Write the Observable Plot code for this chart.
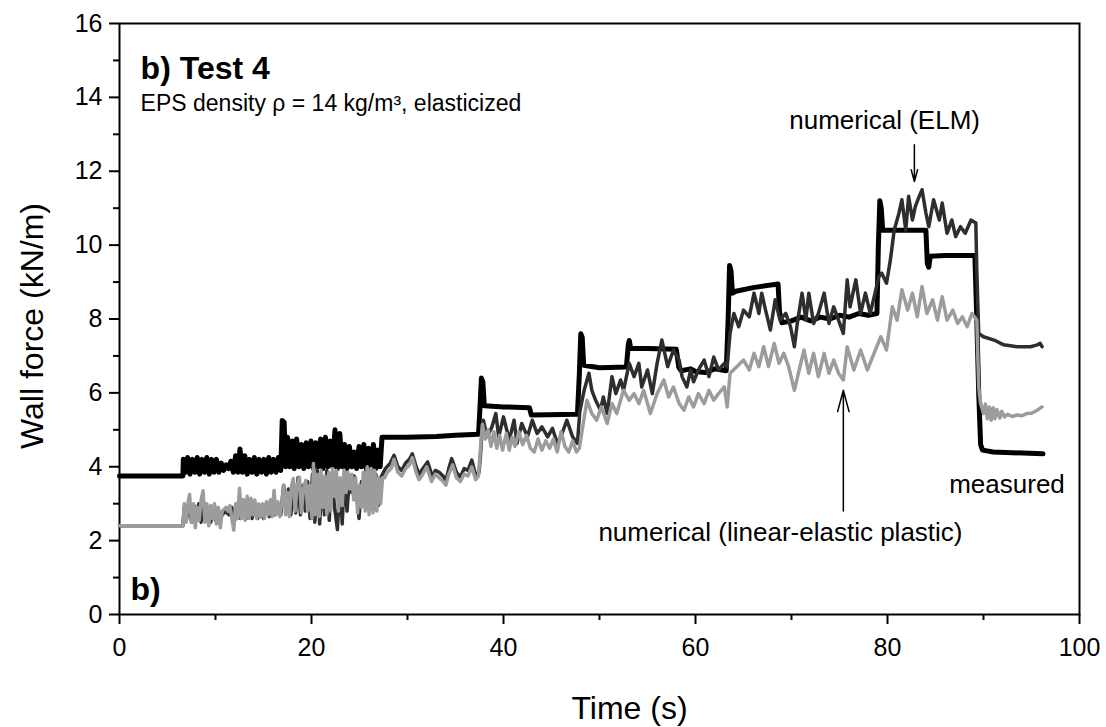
<!DOCTYPE html>
<html>
<head>
<meta charset="utf-8">
<script src="https://cdn.jsdelivr.net/npm/d3@7"></script>
<script src="https://cdn.jsdelivr.net/npm/@observablehq/plot@0.6"></script>
<style>
  html, body { margin: 0; padding: 0; background: #fff; }
</style>
</head>
<body>
<div id="chart"></div>
<script>
// ---- data (time s, wall force kN/m) ----
const measured = [
  [0,3.75],[6.6,3.75],
  [6.65,4.2],[6.9,3.85],[7.1,4.25],[7.35,3.8],[7.6,4.2],[7.85,3.85],[8.1,4.25],[8.35,3.8],[8.6,4.2],[8.85,3.85],
  [9.1,4.25],[9.35,3.8],[9.6,4.2],[9.85,3.85],[10.1,4.2],[10.35,3.85],[10.6,4.1],[10.85,3.9],[11.1,4.05],[11.35,3.95],
  [11.6,4.15],[11.85,3.85],[12.1,4.3],[12.35,3.85],[12.55,4.48],[12.8,3.85],[13.05,4.3],[13.3,3.8],[13.55,4.2],[13.8,3.85],
  [14.05,4.25],[14.3,3.8],[14.55,4.2],[14.8,3.85],[15.05,4.2],[15.3,3.8],[15.55,4.25],[15.8,3.85],[16.05,4.2],[16.3,3.85],
  [16.55,4.25],[16.8,3.9],
  [16.95,5.25],[17.15,5.2],[17.3,4.0],[17.5,4.8],[17.75,4.0],[18.0,4.7],[18.2,3.95],[18.45,4.75],[18.7,4.0],[18.95,4.6],
  [19.2,3.95],[19.45,4.65],[19.7,4.0],[19.95,4.7],[20.2,3.95],[20.45,4.65],[20.7,4.0],[20.95,4.75],[21.2,3.95],[21.45,4.8],
  [21.7,4.0],[21.95,4.7],[22.2,4.0],[22.45,5.0],[22.7,3.95],[22.95,4.9],[23.2,4.0],[23.45,4.6],[23.7,3.95],[23.95,4.55],
  [24.2,4.0],[24.45,4.4],[24.7,3.95],[24.95,4.55],[25.2,4.0],[25.45,4.6],[25.7,3.95],[25.95,4.5],[26.2,4.0],[26.45,4.6],
  [26.7,3.95],[26.95,4.45],[27.15,4.0],[27.35,4.8],
  [30,4.8],[33,4.82],[35,4.85],[37.4,4.88],
  [37.55,5.6],[37.7,6.4],[37.85,6.3],[38.0,5.65],[40,5.62],[42.7,5.6],[42.9,5.4],[47.7,5.42],
  [47.9,6.5],[48.05,7.6],[48.2,7.5],[48.35,6.75],[50,6.68],[52.8,6.7],
  [53.0,7.3],[53.1,7.42],[53.25,7.2],[55,7.2],[58.0,7.18],[58.25,6.7],[58.5,6.6],
  [59.5,6.65],[60,6.58],[61,6.55],[62,6.65],[63.2,6.6],
  [63.4,8.0],[63.55,9.45],[63.7,9.3],[63.85,8.7],[64.2,8.75],[66,8.85],[68.6,8.95],
  [68.75,8.2],[69,7.9],[70,7.95],[71,8.05],[72,7.95],[73,8.05],[74,8.0],[75,8.1],[76,8.05],[77,8.15],[78,8.1],[78.9,8.15],
  [79.05,10.0],[79.2,11.2],[79.35,11.0],[79.5,10.4],[82,10.4],[84.0,10.4],
  [84.15,9.5],[84.3,9.4],[84.45,9.7],[86,9.72],[89.1,9.72],
  [89.3,8.0],[89.5,6.0],[89.7,4.6],[89.9,4.45],[91,4.4],[93,4.38],[96.2,4.35]
];

const elm = [
  [0,2.4],[6.6,2.4],
  [6.75,2.9],[7.0,2.6],[7.25,3.1],[7.5,2.5],[7.75,2.95],[8.0,2.55],[8.25,3.0],[8.5,2.5],[8.75,3.05],[9.0,2.55],
  [9.25,2.9],[9.5,2.5],[9.75,2.85],[10.0,2.55],[10.3,2.8],[10.6,2.65],[11.0,2.8],[11.4,2.7],[11.7,2.9],[12.0,2.55],
  [12.3,3.0],[12.6,2.6],[12.9,3.1],[13.2,2.6],[13.5,2.95],[13.8,2.6],[14.1,2.9],[14.4,2.6],[14.7,2.8],[15.0,2.6],
  [15.3,3.0],[15.6,2.65],[15.9,3.1],[16.2,2.7],[16.5,3.0],[16.8,2.7],
  [17.1,3.5],[17.35,2.75],[17.6,3.4],[17.85,2.7],[18.1,3.6],[18.35,2.75],[18.6,3.7],[18.85,2.7],[19.1,3.5],[19.35,2.8],
  [19.6,3.6],[19.85,2.6],[20.1,3.8],[20.35,2.5],[20.6,3.9],[20.85,2.45],[21.1,3.7],[21.35,2.7],[21.6,3.9],[21.85,2.55],
  [22.1,3.8],[22.4,2.9],[22.7,2.3],[22.95,3.6],[23.2,2.45],[23.45,3.9],[23.7,2.8],[23.95,3.7],[24.2,3.3],[24.45,3.75],
  [24.7,3.3],[24.95,2.6],[25.2,3.6],[25.45,3.4],[25.7,3.9],[25.95,2.9],[26.2,3.95],[26.45,2.85],[26.7,3.8],[26.95,2.95],
  [27.2,3.7],
  [27.5,3.85],[27.7,3.95],[28.2,4.1],[28.6,4.31],[29.0,4.0],[29.4,3.9],[29.8,4.1],[30.2,4.2],[30.5,4.35],[30.9,4.0],
  [31.2,3.8],[31.6,3.95],[32.1,4.13],[32.6,3.72],[32.9,3.9],[33.3,3.85],[33.7,3.75],[34.0,3.63],[34.3,3.95],[34.6,4.22],
  [35.1,3.85],[35.5,3.72],[35.9,3.95],[36.3,3.9],[36.7,4.18],[37.1,3.77],[37.45,3.85],
  [37.6,4.3],[37.75,4.9],[37.9,5.26],[38.3,4.81],[38.8,5.08],[39.2,5.44],[39.5,4.81],[40.0,5.35],[40.6,4.72],[41.1,5.26],
  [41.4,4.63],[41.9,5.17],[42.5,4.81],[43.0,5.26],[43.5,4.9],[44.0,5.08],[44.6,4.81],[45.1,5.04],[45.6,4.63],[46.1,4.9],
  [46.6,5.26],[47.2,4.81],[47.7,4.63],[47.95,5.5],
  [48.4,6.07],[48.9,6.53],[49.2,6.07],[49.6,5.8],[50.1,5.53],[50.4,5.89],[50.8,5.44],[51.3,6.44],[51.7,5.98],[52.2,6.35],
  [52.5,6.07],[53.1,6.8],[53.6,6.44],[54.1,6.8],[54.4,6.16],[55.0,6.62],[55.5,5.98],[56.0,6.8],[56.5,7.43],[57.1,6.71],
  [57.7,7.16],[58.3,6.89],[58.6,6.44],[59.1,6.16],[59.5,6.62],[59.8,6.3],[60.3,6.62],[60.9,6.89],[61.4,6.44],[61.9,6.97],
  [62.4,6.62],[63.0,6.8],[63.3,6.71],
  [63.6,7.61],[64.0,8.15],[64.5,7.79],[65.0,8.24],[65.6,8.06],[66.1,8.7],[66.6,8.15],[66.9,8.7],[67.3,8.24],[67.8,7.7],
  [68.3,8.52],[68.8,7.97],[69.4,8.15],[69.9,7.79],[70.3,7.25],[70.6,7.88],[71.1,8.7],[71.5,7.97],[71.8,8.7],[72.3,7.88],
  [72.8,8.15],[73.4,8.7],[73.9,7.88],[74.4,8.33],[74.9,7.97],[75.4,7.61],[75.8,9.06],[76.1,8.33],[76.7,9.06],[77.2,8.15],
  [77.7,8.7],[78.2,8.15],[78.7,8.7],[79.1,9.15],[79.4,9.24],[79.9,8.97],[80.3,9.6],[80.7,10.41],[81.2,10.87],[81.5,11.23],
  [81.9,10.41],[82.2,11.32],[82.6,10.68],[82.9,11.05],[83.3,11.32],[83.6,11.5],[84.0,10.87],[84.3,10.5],[84.8,11.23],
  [85.4,10.68],[85.7,11.14],[86.2,10.32],[86.7,10.68],[87.1,10.23],[87.6,10.5],[88.1,10.32],[88.7,10.68],[89.2,10.6],
  [89.3,9.33],[89.5,7.61],[90.0,7.52],[91.1,7.43],[92.1,7.3],[93.5,7.25],[94.9,7.25],[95.6,7.3],[95.9,7.34],[96.1,7.25]
];

const lep = [
  [0,2.4],[6.6,2.4],
  [6.75,3.0],[6.95,2.5],[7.15,3.05],[7.3,3.25],[7.5,2.5],[7.7,3.0],[7.9,2.35],[8.1,2.9],[8.3,2.55],[8.5,3.1],[8.7,3.35],
  [8.9,2.5],[9.1,3.0],[9.3,2.4],[9.5,2.95],[9.7,2.6],[9.9,3.0],[10.1,2.45],[10.3,2.9],[10.5,2.35],[10.7,2.8],[10.9,2.85],
  [11.1,2.9],[11.3,2.8],[11.5,2.95],[11.7,2.6],[11.9,2.28],[12.1,3.0],[12.3,2.6],[12.5,3.42],[12.7,2.6],[12.9,3.1],
  [13.1,2.55],[13.3,3.2],[13.5,2.6],[13.7,3.15],[13.9,2.7],[14.1,3.1],[14.3,2.6],[14.5,3.0],[14.7,2.65],[14.9,3.0],
  [15.1,2.6],[15.3,3.05],[15.5,2.7],[15.7,3.1],[15.9,2.65],[16.1,3.36],[16.3,2.7],[16.5,3.05],[16.7,2.65],[16.9,3.0],
  [17.1,3.5],[17.3,2.7],[17.5,3.3],[17.7,2.65],[17.9,3.45],[18.1,3.68],[18.3,2.8],[18.5,3.5],[18.75,3.72],[18.95,2.75],
  [19.15,3.4],[19.4,3.63],[19.6,2.8],[19.8,3.5],[20.05,2.6],[20.2,4.09],[20.4,2.7],[20.6,3.8],[20.8,2.65],[21.0,3.9],
  [21.2,2.9],[21.4,3.75],[21.6,2.7],[21.8,3.85],[22.0,2.8],[22.2,3.95],[22.4,3.2],[22.6,3.9],[22.8,2.8],[23.0,3.7],
  [23.2,2.95],[23.4,3.9],[23.6,3.3],[23.8,3.85],[24.0,3.4],[24.2,3.8],[24.4,3.1],[24.6,3.7],[24.8,2.75],[25.0,3.5],
  [25.2,2.9],[25.4,3.85],[25.6,2.8],[25.8,4.0],[26.0,2.7],[26.2,3.95],[26.4,2.75],[26.6,3.9],[26.8,2.8],[27.0,3.7],
  [27.2,3.0],[27.4,3.7],
  [27.6,3.7],[27.9,3.85],[28.3,3.95],[28.6,4.2],[29.0,3.85],[29.4,3.75],[29.8,3.95],[30.2,4.05],[30.5,4.25],[30.9,3.85],
  [31.2,3.65],[31.6,3.8],[32.0,4.0],[32.5,3.6],[32.9,3.8],[33.3,3.7],[33.7,3.6],[34.0,3.5],[34.3,3.8],[34.7,4.05],
  [35.1,3.7],[35.5,3.6],[35.9,3.8],[36.3,3.75],[36.7,4.0],[37.1,3.65],[37.4,3.75],
  [37.6,4.5],[37.8,5.15],[38.1,4.75],[38.4,5.0],[38.7,4.55],[39.0,4.95],[39.3,4.5],[39.6,4.85],[39.9,4.45],[40.3,4.9],
  [40.6,4.45],[40.9,4.8],[41.2,4.55],[41.6,4.95],[42.0,4.6],[42.4,4.85],[42.8,4.5],[43.2,4.4],[43.6,4.75],[44.0,4.45],
  [44.4,4.7],[44.8,4.5],[45.2,4.75],[45.6,4.4],[46.0,4.95],[46.4,4.55],[46.8,4.4],[47.2,4.7],[47.6,4.4],[47.9,4.5],
  [48.2,4.99],[48.7,5.8],[49.2,5.44],[49.7,5.26],[50.2,5.62],[50.8,5.17],[51.3,5.71],[51.8,5.44],[52.5,6.07],[53.1,5.8],
  [53.6,5.98],[54.1,5.71],[54.6,6.07],[55.3,5.44],[56.0,5.98],[56.7,6.35],[57.2,5.89],[57.7,6.16],[58.3,5.71],[58.8,5.53],
  [59.3,5.89],[59.8,5.62],[60.3,5.98],[60.9,5.71],[61.4,6.07],[61.9,5.8],[62.4,5.98],[63.0,6.16],[63.3,5.62],
  [63.6,6.53],[64.3,6.71],[65.0,6.89],[65.6,6.62],[66.1,7.07],[66.6,6.71],[67.1,7.25],[67.6,6.71],[68.2,7.34],[68.7,6.8],
  [69.2,7.07],[69.7,6.71],[70.3,6.07],[70.8,6.62],[71.3,7.16],[71.8,6.53],[72.3,7.07],[72.8,6.44],[73.4,7.07],[73.9,6.53],
  [74.4,6.89],[74.9,6.53],[75.4,6.35],[75.8,7.25],[76.5,6.62],[77.2,7.16],[77.9,6.62],[78.6,7.07],[79.3,7.52],[79.9,7.16],
  [80.5,8.33],[81.0,7.97],[81.5,8.79],[82.1,8.24],[82.6,8.7],[83.1,8.06],[83.6,8.88],[84.1,8.15],[84.7,8.52],[85.2,7.97],
  [85.7,8.6],[86.2,7.97],[86.8,8.24],[87.3,7.88],[87.8,8.06],[88.3,7.79],[88.8,8.15],[89.3,7.97],
  [89.5,6.16],[89.7,5.71],[90.0,5.44],[90.2,5.7],[90.4,5.3],[90.6,5.62],[90.8,5.26],[91.0,5.6],[91.2,5.3],[91.4,5.55],
  [91.7,5.32],[91.9,5.5],[92.2,5.35],[92.5,5.42],[93.0,5.36],[93.5,5.4],[94.0,5.38],[94.5,5.44],[95.0,5.45],[95.6,5.53],[96.1,5.62]
];

const xMajor = [0, 20, 40, 60, 80, 100];
const xMinor = [10, 30, 50, 70, 90];
const yMajor = [0, 2, 4, 6, 8, 10, 12, 14, 16];
const yMinor = [1, 3, 5, 7, 9, 11, 13, 15];

const arrows = [
  {x1: 82.8, y1: 12.72, x2: 82.8, y2: 11.72},
  {x1: 75.4, y1: 2.8, x2: 75.4, y2: 6.07}
];

const labels = [
  {x: 79.7, y: 13.15, text: "numerical (ELM)", anchor: "middle"},
  {x: 92.45, y: 3.28, text: "measured", anchor: "middle"},
  {x: 68.85, y: 1.98, text: "numerical (linear-elastic plastic)", anchor: "middle"}
];

const FONT = "'Liberation Sans', Arial, Helvetica, sans-serif";
const X = d => d[0], Y = d => d[1];

const chart = Plot.plot({
  width: 1106,
  height: 727,
  marginLeft: 119,
  marginRight: 27,
  marginTop: 23,
  marginBottom: 113,
  style: {fontFamily: FONT, fontSize: "25px", color: "#000", background: "#fff"},
  x: {domain: [0, 100], axis: null},
  y: {domain: [0, 16], axis: null},
  marks: [
    Plot.axisX(xMajor, {tickSize: 10, tickPadding: 14, strokeWidth: 2, fontSize: 25, tickFormat: d => d}),
    Plot.axisX(xMinor, {tickSize: 6, strokeWidth: 2, tickFormat: () => ""}),
    Plot.axisY(yMajor, {tickSize: 10, tickPadding: 7, strokeWidth: 2, fontSize: 25, tickFormat: d => d}),
    Plot.axisY(yMinor, {tickSize: 6, strokeWidth: 2, tickFormat: () => ""}),
    Plot.frame({stroke: "#000", strokeWidth: 2}),
    Plot.line(measured, {x: X, y: Y, stroke: "#000", strokeWidth: 5, strokeLinejoin: "round"}),
    Plot.line(elm, {x: X, y: Y, stroke: "#2e2e2e", strokeWidth: 3.5, strokeLinejoin: "round"}),
    Plot.line(lep, {x: X, y: Y, stroke: "#9c9c9c", strokeWidth: 3.5, strokeLinejoin: "round"}),
    Plot.arrow(arrows, {x1: "x1", y1: "y1", x2: "x2", y2: "y2", stroke: "#000", strokeWidth: 1.5, headLength: 22, headAngle: 30}),
    Plot.text(labels, {x: "x", y: "y", text: "text", textAnchor: "anchor", lineAnchor: "bottom", fontSize: 26, fill: "#000"}),
    Plot.text(["b) Test 4"], {x: 2.2, y: 14.5, textAnchor: "start", lineAnchor: "bottom", fontSize: 32, fontWeight: "bold", fill: "#000"}),
    Plot.text(["EPS density ρ = 14 kg/m³, elasticized"], {x: 2.2, y: 13.64, textAnchor: "start", lineAnchor: "bottom", fontSize: 23, fill: "#000"}),
    Plot.text(["b)"], {x: 1.15, y: 0.38, textAnchor: "start", lineAnchor: "bottom", fontSize: 32, fontWeight: "bold", fill: "#000"}),
    Plot.text(["Time (s)"], {frameAnchor: "bottom", dx: 30, dy: 104, lineAnchor: "bottom", fontSize: 32, fill: "#000"}),
    Plot.text(["Wall force (kN/m)"], {frameAnchor: "left", textAnchor: "middle", dx: -87, dy: 7, rotate: -90, fontSize: 32, fill: "#000"})
  ]
});
document.getElementById("chart").appendChild(chart);
</script>
</body>
</html>
